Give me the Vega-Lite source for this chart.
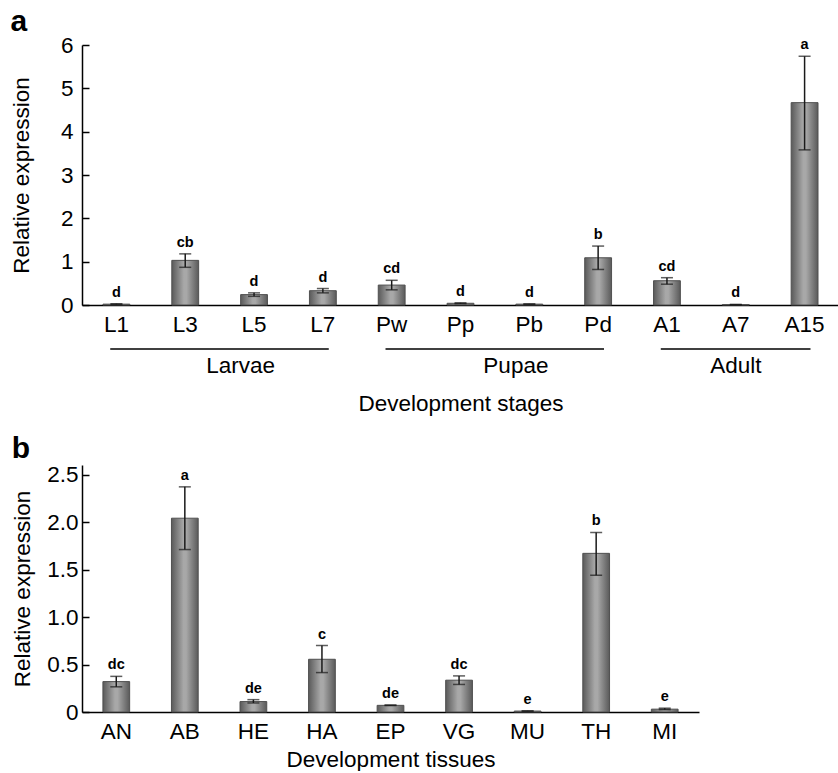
{
  "$schema": "https://vega.github.io/schema/vega-lite/v6.json",
  "padding": {"left": 10, "top": 7, "right": 0, "bottom": 0},
  "spacing": 18,
  "config": {
    "font": "Liberation Sans",
    "view": {"stroke": null},
    "axis": {
      "labelFont": "Liberation Sans", "titleFont": "Liberation Sans",
      "labelColor": "#000", "titleColor": "#000", "domainColor": "#000", "tickColor": "#000",
      "grid": false, "labelFontSize": 22.5, "titleFontSize": 22.5, "titleFontWeight": "normal",
      "domainWidth": 1.5, "tickWidth": 1.5
    },
    "title": {"font": "Liberation Sans", "fontSize": 30, "fontWeight": "bold", "anchor": "start", "frame": "bounds", "color": "#000", "offset": -3}
  },
  "datasets": {
    "stages": [
      {"stage": "L1", "value": 0.02, "lo": 0.012, "hi": 0.028, "letter": "d"},
      {"stage": "L3", "value": 1.03, "lo": 0.87, "hi": 1.18, "letter": "cb"},
      {"stage": "L5", "value": 0.24, "lo": 0.2, "hi": 0.28, "letter": "d"},
      {"stage": "L7", "value": 0.33, "lo": 0.28, "hi": 0.38, "letter": "d"},
      {"stage": "Pw", "value": 0.46, "lo": 0.35, "hi": 0.57, "letter": "cd"},
      {"stage": "Pp", "value": 0.04, "lo": 0.03, "hi": 0.05, "letter": "d"},
      {"stage": "Pb", "value": 0.02, "lo": 0.015, "hi": 0.025, "letter": "d"},
      {"stage": "Pd", "value": 1.09, "lo": 0.82, "hi": 1.36, "letter": "b"},
      {"stage": "A1", "value": 0.56, "lo": 0.48, "hi": 0.63, "letter": "cd"},
      {"stage": "A7", "value": 0.01, "lo": 0.006, "hi": 0.014, "letter": "d"},
      {"stage": "A15", "value": 4.67, "lo": 3.58, "hi": 5.74, "letter": "a"}
    ],
    "groups": [
      {"group": "Larvae", "start": "L1", "end": "L7", "labelAt": "L5", "labelSide": "edge"},
      {"group": "Pupae", "start": "Pw", "end": "Pd", "labelAt": "Pb", "labelSide": "edge"},
      {"group": "Adult", "start": "A1", "end": "A15", "labelAt": "A7", "labelSide": "center"}
    ],
    "tissues": [
      {"tissue": "AN", "value": 0.32, "lo": 0.265, "hi": 0.375, "letter": "dc"},
      {"tissue": "AB", "value": 2.04, "lo": 1.71, "hi": 2.37, "letter": "a"},
      {"tissue": "HE", "value": 0.11, "lo": 0.095, "hi": 0.13, "letter": "de"},
      {"tissue": "HA", "value": 0.555, "lo": 0.415, "hi": 0.7, "letter": "c"},
      {"tissue": "EP", "value": 0.07, "lo": 0.068, "hi": 0.074, "letter": "de"},
      {"tissue": "VG", "value": 0.335, "lo": 0.29, "hi": 0.38, "letter": "dc"},
      {"tissue": "MU", "value": 0.01, "lo": 0.008, "hi": 0.012, "letter": "e"},
      {"tissue": "TH", "value": 1.67, "lo": 1.44, "hi": 1.89, "letter": "b"},
      {"tissue": "MI", "value": 0.03, "lo": 0.025, "hi": 0.04, "letter": "e"}
    ]
  },
  "vconcat": [
    {
      "width": 757,
      "height": 260,
      "title": {"text": "a"},
      "encoding": {
        "x": {
          "field": "stage", "type": "nominal", "title": "Development stages",
          "scale": {"domain": ["L1", "L3", "L5", "L7", "Pw", "Pp", "Pb", "Pd", "A1", "A7", "A15"], "paddingInner": 0.61},
          "axis": {"title": "Development stages", "labelAngle": 0, "ticks": false, "labelPadding": 8, "titlePadding": 57}
        }
      },
      "layer": [
        {
          "data": {"name": "stages"},
          "mark": {
            "type": "bar", "stroke": "#505050", "strokeWidth": 1,
            "fill": {"gradient": "linear", "x1": 0, "y1": 0, "x2": 1, "y2": 0,
              "stops": [{"offset": 0, "color": "#5a5a5a"}, {"offset": 0.45, "color": "#a8a8a8"}, {"offset": 0.55, "color": "#a8a8a8"}, {"offset": 1, "color": "#5a5a5a"}]}
          },
          "encoding": {
            "y": {
              "field": "value", "type": "quantitative", "title": "Relative expression",
              "scale": {"domain": [0, 6]},
              "axis": {"values": [0, 1, 2, 3, 4, 5, 6], "tickSize": -7, "labelPadding": 16, "titlePadding": 27}
            }
          }
        },
        {
          "data": {"name": "stages"},
          "mark": {"type": "errorbar", "ticks": true, "size": 12, "thickness": 1.5, "color": "#1a1a1a"},
          "encoding": {
            "y": {"field": "lo", "type": "quantitative", "title": "Relative expression"},
            "y2": {"field": "hi"}
          }
        },
        {
          "data": {"name": "stages"},
          "mark": {"type": "text", "baseline": "bottom", "dy": -4, "fontSize": 14.5, "fontWeight": "bold", "color": "#000"},
          "encoding": {
            "y": {"field": "hi", "type": "quantitative", "title": "Relative expression"},
            "text": {"field": "letter"}
          }
        },
        {
          "data": {"name": "groups"},
          "mark": {"type": "rule", "strokeWidth": 1.5, "color": "#000", "yOffset": 44},
          "encoding": {
            "x": {"field": "start", "type": "nominal", "bandPosition": 0.27, "title": "Development stages"},
            "x2": {"field": "end", "bandPosition": 0.72},
            "y": {"datum": 0, "type": "quantitative"}
          }
        },
        {
          "data": {"name": "groups"},
          "transform": [{"filter": "datum.labelSide === 'edge'"}],
          "mark": {"type": "text", "fontSize": 22.5, "baseline": "middle", "yOffset": 61, "color": "#000"},
          "encoding": {
            "x": {"field": "labelAt", "type": "nominal", "bandPosition": 0, "title": "Development stages"},
            "y": {"datum": 0, "type": "quantitative"},
            "text": {"field": "group"}
          }
        },
        {
          "data": {"name": "groups"},
          "transform": [{"filter": "datum.labelSide === 'center'"}],
          "mark": {"type": "text", "fontSize": 22.5, "baseline": "middle", "yOffset": 61, "color": "#000"},
          "encoding": {
            "x": {"field": "labelAt", "type": "nominal", "bandPosition": 0.5, "title": "Development stages"},
            "y": {"datum": 0, "type": "quantitative"},
            "text": {"field": "group"}
          }
        }
      ]
    },
    {
      "width": 617,
      "height": 247,
      "title": {"text": "b", "offset": 0},
      "data": {"name": "tissues"},
      "encoding": {
        "x": {
          "field": "tissue", "type": "nominal", "sort": null,
          "scale": {"paddingInner": 0.61},
          "axis": {"title": "Development tissues", "labelAngle": 0, "ticks": false, "labelPadding": 8, "titlePadding": 6}
        }
      },
      "layer": [
        {
          "mark": {
            "type": "bar", "stroke": "#505050", "strokeWidth": 1,
            "fill": {"gradient": "linear", "x1": 0, "y1": 0, "x2": 1, "y2": 0,
              "stops": [{"offset": 0, "color": "#5a5a5a"}, {"offset": 0.45, "color": "#a8a8a8"}, {"offset": 0.55, "color": "#a8a8a8"}, {"offset": 1, "color": "#5a5a5a"}]}
          },
          "encoding": {
            "y": {
              "field": "value", "type": "quantitative", "title": "Relative expression",
              "scale": {"domain": [0, 2.5]},
              "axis": {"values": [0, 0.5, 1, 1.5, 2, 2.5], "labelExpr": "datum.value === 0 ? '0' : format(datum.value, '.1f')", "tickSize": -7, "labelPadding": 11, "titlePadding": 12}
            }
          }
        },
        {
          "mark": {"type": "errorbar", "ticks": true, "size": 12, "thickness": 1.5, "color": "#1a1a1a"},
          "encoding": {
            "y": {"field": "lo", "type": "quantitative", "title": "Relative expression"},
            "y2": {"field": "hi"}
          }
        },
        {
          "mark": {"type": "text", "baseline": "bottom", "dy": -4, "fontSize": 14.5, "fontWeight": "bold", "color": "#000"},
          "encoding": {
            "y": {"field": "hi", "type": "quantitative", "title": "Relative expression"},
            "text": {"field": "letter"}
          }
        }
      ]
    }
  ]
}
